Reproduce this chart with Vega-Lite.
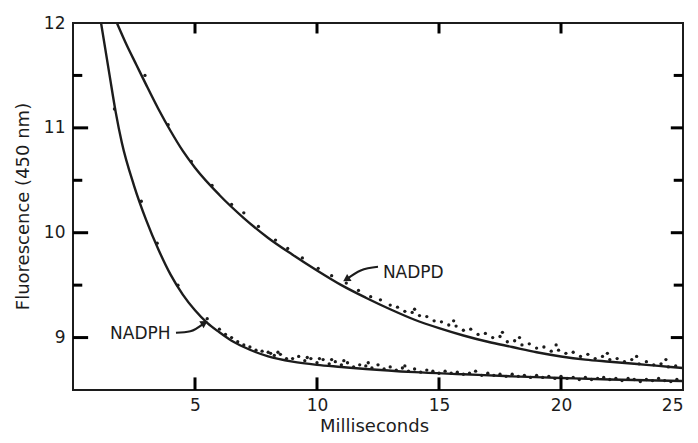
{
  "$schema": "https://vega.github.io/schema/vega-lite/v6.json",
  "autosize": {"type": "none"},
  "width": 610,
  "height": 367,
  "padding": {"left": 73, "top": 23, "right": 15, "bottom": 53},
  "background": "white",
  "config": {
    "font": "DejaVu Sans",
    "view": {"stroke": "#1c1c1c", "strokeWidth": 2},
    "axis": {
      "domain": false,
      "grid": false,
      "ticks": false,
      "labelColor": "#1c1c1c",
      "titleColor": "#1c1c1c",
      "labelFontSize": 17,
      "titleFontSize": 18,
      "titleFontWeight": "normal"
    }
  },
  "datasets": {
    "fits": [
      {"series": "NADPH", "ms": 1.15, "f": 12.0}, {"series": "NADPH", "ms": 1.5, "f": 11.5},
      {"series": "NADPH", "ms": 1.75, "f": 11.15}, {"series": "NADPH", "ms": 2.0, "f": 10.86},
      {"series": "NADPH", "ms": 2.5, "f": 10.45}, {"series": "NADPH", "ms": 3.0, "f": 10.12},
      {"series": "NADPH", "ms": 3.5, "f": 9.84}, {"series": "NADPH", "ms": 4.0, "f": 9.6},
      {"series": "NADPH", "ms": 4.5, "f": 9.41}, {"series": "NADPH", "ms": 5.0, "f": 9.26},
      {"series": "NADPH", "ms": 5.5, "f": 9.14}, {"series": "NADPH", "ms": 6.0, "f": 9.05},
      {"series": "NADPH", "ms": 6.5, "f": 8.97}, {"series": "NADPH", "ms": 7.0, "f": 8.91},
      {"series": "NADPH", "ms": 7.5, "f": 8.86}, {"series": "NADPH", "ms": 8.0, "f": 8.82},
      {"series": "NADPH", "ms": 9.0, "f": 8.77}, {"series": "NADPH", "ms": 10.0, "f": 8.74},
      {"series": "NADPH", "ms": 11.0, "f": 8.72}, {"series": "NADPH", "ms": 12.0, "f": 8.7},
      {"series": "NADPH", "ms": 14.0, "f": 8.67}, {"series": "NADPH", "ms": 16.0, "f": 8.65},
      {"series": "NADPH", "ms": 18.0, "f": 8.63}, {"series": "NADPH", "ms": 20.0, "f": 8.615},
      {"series": "NADPH", "ms": 22.0, "f": 8.6}, {"series": "NADPH", "ms": 25.0, "f": 8.585},
      {"series": "NADPD", "ms": 1.8, "f": 12.0}, {"series": "NADPD", "ms": 2.2, "f": 11.79},
      {"series": "NADPD", "ms": 2.6, "f": 11.6}, {"series": "NADPD", "ms": 3.0, "f": 11.41},
      {"series": "NADPD", "ms": 3.5, "f": 11.18}, {"series": "NADPD", "ms": 4.0, "f": 10.97},
      {"series": "NADPD", "ms": 4.5, "f": 10.78}, {"series": "NADPD", "ms": 5.0, "f": 10.62},
      {"series": "NADPD", "ms": 6.0, "f": 10.36}, {"series": "NADPD", "ms": 7.0, "f": 10.14},
      {"series": "NADPD", "ms": 8.0, "f": 9.95}, {"series": "NADPD", "ms": 9.0, "f": 9.79},
      {"series": "NADPD", "ms": 10.0, "f": 9.64}, {"series": "NADPD", "ms": 11.0, "f": 9.5},
      {"series": "NADPD", "ms": 12.0, "f": 9.38}, {"series": "NADPD", "ms": 13.0, "f": 9.27},
      {"series": "NADPD", "ms": 14.0, "f": 9.17}, {"series": "NADPD", "ms": 15.0, "f": 9.09},
      {"series": "NADPD", "ms": 16.0, "f": 9.02}, {"series": "NADPD", "ms": 17.0, "f": 8.96},
      {"series": "NADPD", "ms": 18.0, "f": 8.91}, {"series": "NADPD", "ms": 19.0, "f": 8.86},
      {"series": "NADPD", "ms": 20.0, "f": 8.82}, {"series": "NADPD", "ms": 21.0, "f": 8.79},
      {"series": "NADPD", "ms": 22.0, "f": 8.77}, {"series": "NADPD", "ms": 23.0, "f": 8.75},
      {"series": "NADPD", "ms": 24.0, "f": 8.73}, {"series": "NADPD", "ms": 25.0, "f": 8.71}
    ],
    "dots": [
      {"series": "NADPH", "ms": 1.7, "f": 11.18}, {"series": "NADPH", "ms": 2.8, "f": 10.3},
      {"series": "NADPH", "ms": 3.45, "f": 9.9}, {"series": "NADPH", "ms": 4.3, "f": 9.5},
      {"series": "NADPH", "ms": 5.5, "f": 9.18}, {"series": "NADPH", "ms": 6.0, "f": 9.08},
      {"series": "NADPH", "ms": 6.25, "f": 9.03}, {"series": "NADPH", "ms": 6.5, "f": 9.0},
      {"series": "NADPH", "ms": 6.75, "f": 8.96}, {"series": "NADPH", "ms": 7.0, "f": 8.93},
      {"series": "NADPH", "ms": 7.25, "f": 8.91}, {"series": "NADPH", "ms": 7.5, "f": 8.88},
      {"series": "NADPH", "ms": 7.75, "f": 8.87}, {"series": "NADPH", "ms": 8.0, "f": 8.86},
      {"series": "NADPH", "ms": 8.1, "f": 8.85}, {"series": "NADPH", "ms": 8.25, "f": 8.83},
      {"series": "NADPH", "ms": 8.4, "f": 8.86}, {"series": "NADPH", "ms": 8.5, "f": 8.84},
      {"series": "NADPH", "ms": 8.75, "f": 8.8}, {"series": "NADPH", "ms": 9.0, "f": 8.8},
      {"series": "NADPH", "ms": 9.25, "f": 8.82}, {"series": "NADPH", "ms": 9.5, "f": 8.78},
      {"series": "NADPH", "ms": 9.6, "f": 8.81}, {"series": "NADPH", "ms": 9.75, "f": 8.8},
      {"series": "NADPH", "ms": 10.0, "f": 8.76}, {"series": "NADPH", "ms": 10.1, "f": 8.8},
      {"series": "NADPH", "ms": 10.25, "f": 8.79}, {"series": "NADPH", "ms": 10.5, "f": 8.75},
      {"series": "NADPH", "ms": 10.6, "f": 8.79}, {"series": "NADPH", "ms": 10.75, "f": 8.77},
      {"series": "NADPH", "ms": 11.0, "f": 8.74}, {"series": "NADPH", "ms": 11.1, "f": 8.78},
      {"series": "NADPH", "ms": 11.25, "f": 8.76}, {"series": "NADPH", "ms": 11.5, "f": 8.72},
      {"series": "NADPH", "ms": 11.75, "f": 8.74}, {"series": "NADPH", "ms": 12.0, "f": 8.73},
      {"series": "NADPH", "ms": 12.1, "f": 8.76}, {"series": "NADPH", "ms": 12.25, "f": 8.71},
      {"series": "NADPH", "ms": 12.5, "f": 8.74}, {"series": "NADPH", "ms": 12.75, "f": 8.7},
      {"series": "NADPH", "ms": 13.0, "f": 8.72}, {"series": "NADPH", "ms": 13.25, "f": 8.69},
      {"series": "NADPH", "ms": 13.5, "f": 8.71}, {"series": "NADPH", "ms": 13.6, "f": 8.73},
      {"series": "NADPH", "ms": 13.75, "f": 8.68}, {"series": "NADPH", "ms": 14.0, "f": 8.7},
      {"series": "NADPH", "ms": 14.25, "f": 8.67}, {"series": "NADPH", "ms": 14.5, "f": 8.69},
      {"series": "NADPH", "ms": 14.75, "f": 8.68}, {"series": "NADPH", "ms": 15.0, "f": 8.66},
      {"series": "NADPH", "ms": 15.25, "f": 8.68}, {"series": "NADPH", "ms": 15.5, "f": 8.66},
      {"series": "NADPH", "ms": 15.75, "f": 8.67}, {"series": "NADPH", "ms": 16.0, "f": 8.65},
      {"series": "NADPH", "ms": 16.25, "f": 8.66}, {"series": "NADPH", "ms": 16.5, "f": 8.68},
      {"series": "NADPH", "ms": 16.75, "f": 8.64}, {"series": "NADPH", "ms": 17.0, "f": 8.66},
      {"series": "NADPH", "ms": 17.25, "f": 8.64}, {"series": "NADPH", "ms": 17.5, "f": 8.65},
      {"series": "NADPH", "ms": 17.75, "f": 8.63}, {"series": "NADPH", "ms": 18.0, "f": 8.65},
      {"series": "NADPH", "ms": 18.25, "f": 8.63}, {"series": "NADPH", "ms": 18.5, "f": 8.64},
      {"series": "NADPH", "ms": 18.75, "f": 8.62}, {"series": "NADPH", "ms": 19.0, "f": 8.64},
      {"series": "NADPH", "ms": 19.25, "f": 8.62}, {"series": "NADPH", "ms": 19.5, "f": 8.63},
      {"series": "NADPH", "ms": 19.75, "f": 8.61}, {"series": "NADPH", "ms": 20.0, "f": 8.63},
      {"series": "NADPH", "ms": 20.25, "f": 8.61}, {"series": "NADPH", "ms": 20.5, "f": 8.62},
      {"series": "NADPH", "ms": 20.75, "f": 8.6}, {"series": "NADPH", "ms": 21.0, "f": 8.62},
      {"series": "NADPH", "ms": 21.25, "f": 8.6}, {"series": "NADPH", "ms": 21.5, "f": 8.61},
      {"series": "NADPH", "ms": 21.75, "f": 8.62}, {"series": "NADPH", "ms": 22.0, "f": 8.6},
      {"series": "NADPH", "ms": 22.25, "f": 8.61}, {"series": "NADPH", "ms": 22.5, "f": 8.59},
      {"series": "NADPH", "ms": 22.75, "f": 8.61}, {"series": "NADPH", "ms": 23.0, "f": 8.6},
      {"series": "NADPH", "ms": 23.25, "f": 8.58}, {"series": "NADPH", "ms": 23.5, "f": 8.6},
      {"series": "NADPH", "ms": 23.75, "f": 8.59}, {"series": "NADPH", "ms": 24.0, "f": 8.61},
      {"series": "NADPH", "ms": 24.25, "f": 8.59}, {"series": "NADPH", "ms": 24.5, "f": 8.58},
      {"series": "NADPH", "ms": 24.75, "f": 8.6},
      {"series": "NADPD", "ms": 2.95, "f": 11.5}, {"series": "NADPD", "ms": 3.9, "f": 11.03},
      {"series": "NADPD", "ms": 4.85, "f": 10.68}, {"series": "NADPD", "ms": 5.7, "f": 10.45},
      {"series": "NADPD", "ms": 6.5, "f": 10.27}, {"series": "NADPD", "ms": 7.0, "f": 10.19},
      {"series": "NADPD", "ms": 7.6, "f": 10.06}, {"series": "NADPD", "ms": 8.3, "f": 9.93},
      {"series": "NADPD", "ms": 8.8, "f": 9.85}, {"series": "NADPD", "ms": 9.4, "f": 9.76},
      {"series": "NADPD", "ms": 10.05, "f": 9.66}, {"series": "NADPD", "ms": 10.6, "f": 9.59},
      {"series": "NADPD", "ms": 11.2, "f": 9.52}, {"series": "NADPD", "ms": 11.7, "f": 9.45},
      {"series": "NADPD", "ms": 12.2, "f": 9.39}, {"series": "NADPD", "ms": 12.6, "f": 9.36},
      {"series": "NADPD", "ms": 13.0, "f": 9.31}, {"series": "NADPD", "ms": 13.3, "f": 9.29},
      {"series": "NADPD", "ms": 13.6, "f": 9.25}, {"series": "NADPD", "ms": 13.9, "f": 9.24},
      {"series": "NADPD", "ms": 14.0, "f": 9.27}, {"series": "NADPD", "ms": 14.2, "f": 9.21},
      {"series": "NADPD", "ms": 14.5, "f": 9.2}, {"series": "NADPD", "ms": 14.8, "f": 9.16},
      {"series": "NADPD", "ms": 15.1, "f": 9.15}, {"series": "NADPD", "ms": 15.4, "f": 9.12},
      {"series": "NADPD", "ms": 15.6, "f": 9.16}, {"series": "NADPD", "ms": 15.7, "f": 9.11},
      {"series": "NADPD", "ms": 16.0, "f": 9.07}, {"series": "NADPD", "ms": 16.3, "f": 9.08},
      {"series": "NADPD", "ms": 16.6, "f": 9.03}, {"series": "NADPD", "ms": 16.9, "f": 9.04},
      {"series": "NADPD", "ms": 17.2, "f": 9.0}, {"series": "NADPD", "ms": 17.5, "f": 9.01},
      {"series": "NADPD", "ms": 17.6, "f": 9.05}, {"series": "NADPD", "ms": 17.8, "f": 8.96},
      {"series": "NADPD", "ms": 18.1, "f": 8.97}, {"series": "NADPD", "ms": 18.3, "f": 9.0},
      {"series": "NADPD", "ms": 18.4, "f": 8.93}, {"series": "NADPD", "ms": 18.7, "f": 8.94},
      {"series": "NADPD", "ms": 19.0, "f": 8.9}, {"series": "NADPD", "ms": 19.3, "f": 8.91},
      {"series": "NADPD", "ms": 19.6, "f": 8.87}, {"series": "NADPD", "ms": 19.8, "f": 8.93},
      {"series": "NADPD", "ms": 19.9, "f": 8.88}, {"series": "NADPD", "ms": 20.2, "f": 8.85},
      {"series": "NADPD", "ms": 20.5, "f": 8.86}, {"series": "NADPD", "ms": 20.8, "f": 8.82},
      {"series": "NADPD", "ms": 21.1, "f": 8.84}, {"series": "NADPD", "ms": 21.4, "f": 8.8},
      {"series": "NADPD", "ms": 21.7, "f": 8.82}, {"series": "NADPD", "ms": 21.9, "f": 8.85},
      {"series": "NADPD", "ms": 22.0, "f": 8.79}, {"series": "NADPD", "ms": 22.3, "f": 8.8},
      {"series": "NADPD", "ms": 22.6, "f": 8.77}, {"series": "NADPD", "ms": 22.9, "f": 8.79},
      {"series": "NADPD", "ms": 23.1, "f": 8.82}, {"series": "NADPD", "ms": 23.2, "f": 8.75},
      {"series": "NADPD", "ms": 23.5, "f": 8.77}, {"series": "NADPD", "ms": 23.8, "f": 8.74},
      {"series": "NADPD", "ms": 24.1, "f": 8.75}, {"series": "NADPD", "ms": 24.3, "f": 8.79},
      {"series": "NADPD", "ms": 24.4, "f": 8.72}, {"series": "NADPD", "ms": 24.7, "f": 8.73}
    ],
    "arrows": [
      {"arrow": "NADPD", "ms": 11.2, "f": 9.555},
      {"arrow": "NADPD", "ms": 11.79, "f": 9.64},
      {"arrow": "NADPD", "ms": 12.5, "f": 9.675},
      {"arrow": "NADPH", "ms": 4.22, "f": 9.045},
      {"arrow": "NADPH", "ms": 4.81, "f": 9.06},
      {"arrow": "NADPH", "ms": 5.39, "f": 9.14}
    ],
    "labels": [
      {"name": "NADPD", "ms": 12.7, "f": 9.62},
      {"name": "NADPH", "ms": 4.0, "f": 9.03}
    ],
    "xticks": [{"ms": 5}, {"ms": 10}, {"ms": 15}, {"ms": 20}],
    "yticks": [{"f": 9}, {"f": 9.5}, {"f": 10}, {"f": 10.5}, {"f": 11}, {"f": 11.5}]
  },
  "layer": [
    {
      "data": {"name": "fits"},
      "mark": {"type": "line", "interpolate": "monotone", "color": "#1c1c1c", "strokeWidth": 2.4, "clip": true},
      "encoding": {
        "x": {
          "field": "ms", "type": "quantitative",
          "scale": {"domain": [0, 25], "nice": false},
          "axis": {"orient": "bottom", "values": [5, 10, 15, 20, 25], "labelPadding": 7, "title": "Milliseconds", "titleX": 301, "titleY": 36, "titleBaseline": "middle"}
        },
        "y": {
          "field": "f", "type": "quantitative",
          "scale": {"domain": [8.5, 12], "nice": false, "zero": false},
          "axis": {"orient": "left", "values": [9, 10, 11, 12], "format": "d", "labelPadding": 8, "title": "Fluorescence  (450 nm)", "titleX": -50, "titleY": 183, "titleBaseline": "middle"}
        },
        "detail": {"field": "series"}
      }
    },
    {
      "data": {"name": "xticks"},
      "mark": {"type": "rule", "color": "black", "strokeWidth": 3},
      "encoding": {
        "x": {"field": "ms", "type": "quantitative"},
        "y": {"datum": 8.5},
        "y2": {"datum": 8.62}
      }
    },
    {
      "data": {"name": "xticks"},
      "mark": {"type": "rule", "color": "black", "strokeWidth": 3},
      "encoding": {
        "x": {"field": "ms", "type": "quantitative"},
        "y": {"datum": 12},
        "y2": {"datum": 11.9}
      }
    },
    {
      "data": {"name": "yticks"},
      "transform": [{"filter": "datum.f % 1 === 0"}],
      "mark": {"type": "rule", "color": "black", "strokeWidth": 3},
      "encoding": {
        "y": {"field": "f", "type": "quantitative"},
        "x": {"datum": 0},
        "x2": {"datum": 0.62}
      }
    },
    {
      "data": {"name": "yticks"},
      "transform": [{"filter": "datum.f % 1 !== 0"}],
      "mark": {"type": "rule", "color": "black", "strokeWidth": 3},
      "encoding": {
        "y": {"field": "f", "type": "quantitative"},
        "x": {"datum": 0},
        "x2": {"datum": 0.38}
      }
    },
    {
      "data": {"name": "yticks"},
      "transform": [{"filter": "datum.f % 1 === 0"}],
      "mark": {"type": "rule", "color": "black", "strokeWidth": 3},
      "encoding": {
        "y": {"field": "f", "type": "quantitative"},
        "x": {"datum": 25},
        "x2": {"datum": 24.5}
      }
    },
    {
      "data": {"name": "yticks"},
      "transform": [{"filter": "datum.f % 1 !== 0"}],
      "mark": {"type": "rule", "color": "black", "strokeWidth": 3},
      "encoding": {
        "y": {"field": "f", "type": "quantitative"},
        "x": {"datum": 25},
        "x2": {"datum": 24.62}
      }
    },
    {
      "data": {"name": "dots"},
      "mark": {"type": "point", "filled": true, "size": 11, "color": "#1c1c1c", "opacity": 1, "clip": true},
      "encoding": {
        "x": {"field": "ms", "type": "quantitative"},
        "y": {"field": "f", "type": "quantitative"}
      }
    },
    {
      "data": {"name": "arrows"},
      "mark": {"type": "line", "interpolate": "monotone", "color": "#1c1c1c", "strokeWidth": 2},
      "encoding": {
        "x": {"field": "ms", "type": "quantitative"},
        "y": {"field": "f", "type": "quantitative"},
        "detail": {"field": "arrow"}
      }
    },
    {
      "data": {"name": "arrows"},
      "transform": [{"filter": "datum.arrow === 'NADPD' && datum.ms < 11.5"}],
      "mark": {"type": "point", "shape": "triangle-up", "filled": true, "size": 70, "angle": 238, "color": "#1c1c1c", "opacity": 1},
      "encoding": {
        "x": {"field": "ms", "type": "quantitative"},
        "y": {"field": "f", "type": "quantitative"}
      }
    },
    {
      "data": {"name": "arrows"},
      "transform": [{"filter": "datum.arrow === 'NADPH' && datum.ms > 5"}],
      "mark": {"type": "point", "shape": "triangle-up", "filled": true, "size": 70, "angle": 59, "color": "#1c1c1c", "opacity": 1},
      "encoding": {
        "x": {"field": "ms", "type": "quantitative"},
        "y": {"field": "f", "type": "quantitative"}
      }
    },
    {
      "data": {"name": "labels"},
      "transform": [{"filter": "datum.name === 'NADPD'"}],
      "mark": {"type": "text", "align": "left", "baseline": "middle", "fontSize": 17, "color": "#1c1c1c"},
      "encoding": {
        "x": {"field": "ms", "type": "quantitative"},
        "y": {"field": "f", "type": "quantitative"},
        "text": {"field": "name"}
      }
    },
    {
      "data": {"name": "labels"},
      "transform": [{"filter": "datum.name === 'NADPH'"}],
      "mark": {"type": "text", "align": "right", "baseline": "middle", "fontSize": 17, "color": "#1c1c1c"},
      "encoding": {
        "x": {"field": "ms", "type": "quantitative"},
        "y": {"field": "f", "type": "quantitative"},
        "text": {"field": "name"}
      }
    }
  ]
}
